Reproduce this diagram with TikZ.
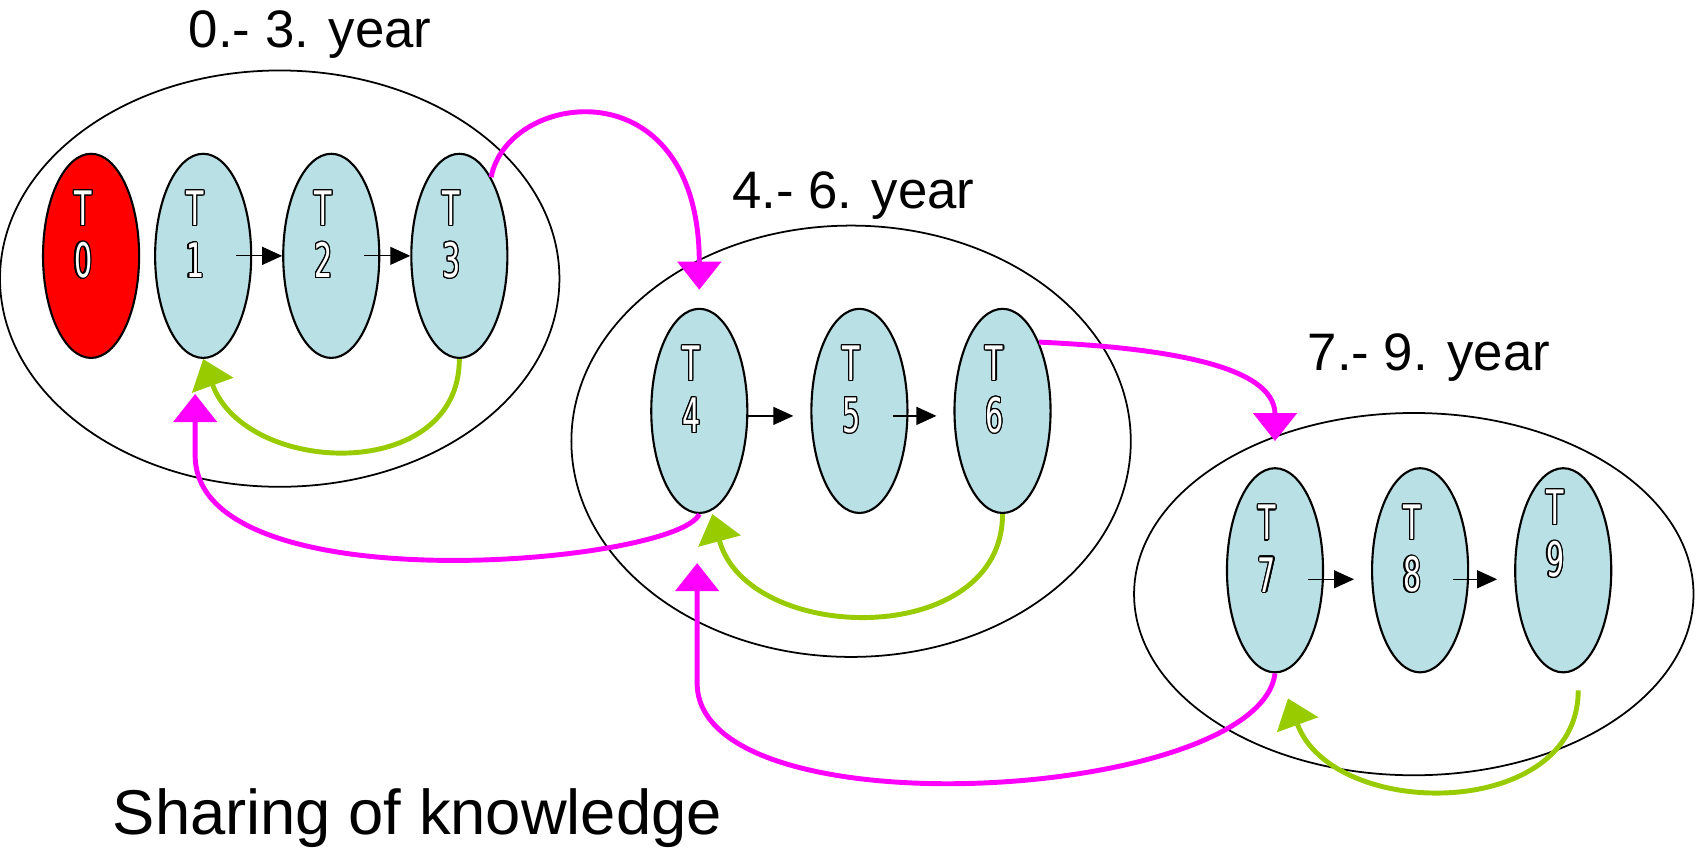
\documentclass[tikz,border=0pt]{standalone}
\usepackage{fontspec}
\setmainfont{Liberation Sans}
\newfontfamily\taskfont[FakeStretch=0.6]{DejaVu Sans}
\usepackage[copies]{contour}
\usetikzlibrary{shapes.geometric, arrows.meta, positioning}
\definecolor{taskblue}{RGB}{185,224,228}
\definecolor{sharegreen}{RGB}{153,204,0}
\definecolor{sharepink}{RGB}{255,0,255}
\contourlength{0.025em}
\newcommand{\tname}[1]{\contour{black}{T}\\\contour{black}{#1}}
\tikzstyle{phase} = [ellipse, draw=black, line width=0.5pt, minimum width=5.59cm, inner sep=0pt]
\tikzstyle{task} = [ellipse, draw=black, line width=0.6pt, minimum width=0.96cm, minimum height=2.04cm, inner sep=0pt, fill=taskblue]
\tikzstyle{tlabel} = [font=\taskfont\fontsize{13.5}{14.8}\selectfont, text=white, align=center, inner sep=0pt, xshift=-0.08cm, yshift=0.21cm]
\tikzstyle{flow} = [line width=0.35pt, -{Triangle[length=0.2cm, width=0.18cm]}]
\tikzstyle{reuse} = [line width=1.4pt, color=sharegreen, -{Triangle[length=0.28cm, width=0.43cm]}]
\tikzstyle{share} = [line width=1.4pt, color=sharepink, -{Triangle[length=0.28cm, width=0.43cm]}]
\tikzstyle{title} = [font=\fontsize{15}{18}\selectfont, anchor=base, inner sep=0pt]
\begin{document}
\begin{tikzpicture}[x=0.01084cm, y=-0.01084cm, node distance=1.28cm]
\useasboundingbox (0,0) rectangle (1568,783);

% year groups
\node (g1) [phase, minimum height=4.16cm] at (258,257) {};
\node (g2) [phase, minimum height=4.31cm] at (785,407) {};
\node (g3) [phase, minimum height=3.62cm] at (1304,548) {};

\node (y1) [title] at (286,44) {0.- 3. year};
\node (y2) [title] at (787,192) {4.- 6. year};
\node (y3) [title] at (1318,342) {7.- 9. year};

% tasks
\node (t0) [task, fill=red, label={[tlabel]center:\tname{0}}] at (84,236) {};
\node (t1) [task, right of=t0, xshift=-0.16cm, label={[tlabel]center:\tname{1}}] {};
\node (t2) [task, right of=t1, label={[tlabel]center:\tname{2}}] {};
\node (t3) [task, right of=t2, label={[tlabel]center:\tname{3}}] {};

\node (t4) [task, label={[tlabel]center:\tname{4}}] at (645,379) {};
\node (t5) [task, right of=t4, xshift=0.32cm, label={[tlabel]center:\tname{5}}] {};
\node (t6) [task, right of=t5, xshift=0.15cm, label={[tlabel]center:\tname{6}}] {};

\node (t7) [task, label={[tlabel]center:\tname{7}}] at (1176,526) {};
\node (t8) [task, right of=t7, xshift=0.17cm, label={[tlabel]center:\tname{8}}] {};
\node (t9) [task, right of=t8, xshift=0.15cm, label={[tlabel, yshift=0.15cm]center:\tname{9}}] {};

\coordinate (bend1) at (180,420);
\coordinate (bend2) at (643,630);

% hand over inside a group
\draw [flow] ([xshift=-0.16cm]t1.east) -- (t2.west);
\draw [flow] ([xshift=-0.16cm]t2.east) -- (t3.west);
\draw [flow, shorten >=0.17cm] ([yshift=-0.05cm]t4.east) -- ([yshift=-0.05cm]t5.west);
\draw [flow, shorten >=0.17cm] ([xshift=-0.16cm, yshift=-0.05cm]t5.east) -- ([yshift=-0.05cm]t6.west);
\draw [flow, shorten >=0.17cm] ([xshift=-0.16cm, yshift=-0.09cm]t7.east) -- ([yshift=-0.09cm]t8.west);
\draw [flow, shorten >=0.17cm] ([xshift=-0.16cm, yshift=-0.09cm]t8.east) -- ([yshift=-0.09cm]t9.west);

\draw [reuse] (t3.south) to[out=-90, in=-70, looseness=1.25] (t1.south);
\draw [reuse] (t6.south) to[out=-90, in=-75, looseness=1.2] ([xshift=0.13cm]t4.south);
\draw [reuse] ([xshift=0.15cm, yshift=-0.17cm]t9.south) to[out=-90, in=-70, looseness=1.15] ([xshift=0.13cm, yshift=-0.25cm]t7.south);

% sharing between groups
\draw [share, shorten >=0.18cm] (t3.68) .. controls +(15,-80) and +(0,-225) .. (t4.north);
\draw [share, shorten >=0.26cm] (t6.62) .. controls +(110,5) and +(0,-95) .. (t7.north);
\draw [share, shorten >=0.35cm] (t4.south) .. controls +(-20,46) and +(0,140) .. (bend1) -- (bend1 |- t1.south);
\draw [share, shorten >=0.49cm] (t7.south) .. controls +(-15,118) and +(0,140) .. (bend2) -- (bend2 |- t4.south);

\node (note) [font=\fontsize{18}{22}\selectfont, anchor=base, inner sep=0pt] at (385,770) {Sharing of knowledge};
\end{tikzpicture}
\end{document}
